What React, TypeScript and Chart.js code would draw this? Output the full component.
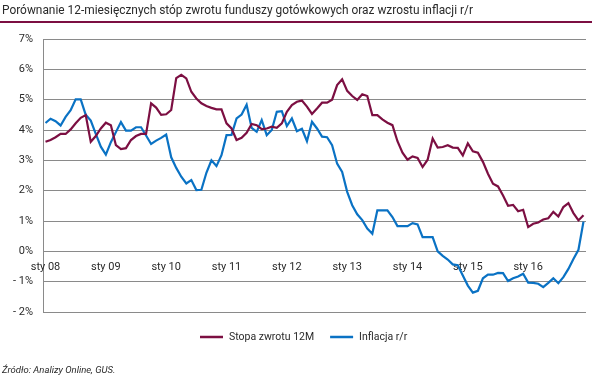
import React, { useEffect, useRef } from "react";
import { Chart, registerables } from "chart.js";

Chart.register(...registerables);

const TITLE = "Porównanie 12-miesięcznych stóp zwrotu funduszy gotówkowych oraz wzrostu inflacji r/r";
const SOURCE = "Źródło: Analizy Online, GUS.";
const MONTHS = ["sty", "lut", "mar", "kwi", "maj", "cze", "lip", "sie", "wrz", "paź", "lis", "gru"];
const YEARS = ["08", "09", "10", "11", "12", "13", "14", "15", "16"];
const CATEGORIES = YEARS.flatMap((y) => MONTHS.map((m) => `${m} ${y}`));
const SERIES_LABELS = ["Stopa zwrotu 12M", "Inflacja r/r"];
const SERIES_COLORS = ["#7c0f42", "#0a72c4"];
const Y_MIN = -2;
const Y_MAX = 7;

const STOPA_ZWROTU = [
  3.61, 3.67, 3.76, 3.87, 3.87, 4.02, 4.22, 4.40, 4.49, 3.61, 3.80, 4.05,
  4.24, 4.16, 3.50, 3.37, 3.40, 3.67, 3.80, 3.87, 3.87, 4.88, 4.74, 4.50,
  4.52, 4.66, 5.71, 5.82, 5.70, 5.26, 5.04, 4.88, 4.79, 4.73, 4.68, 4.68,
  4.22, 4.05, 3.67, 3.74, 3.91, 4.20, 4.16, 4.03, 4.05, 4.11, 4.07, 4.22,
  4.60, 4.82, 4.93, 4.97, 4.77, 4.53, 4.71, 4.90, 4.90, 5.00, 5.48, 5.67,
  5.29, 5.12, 4.99, 5.18, 5.12, 4.49, 4.49, 4.35, 4.24, 4.16, 3.63, 3.25,
  3.02, 3.13, 3.08, 2.78, 3.02, 3.72, 3.42, 3.44, 3.50, 3.42, 3.41, 3.16,
  3.56, 3.30, 3.25, 2.95, 2.56, 2.23, 2.14, 1.84, 1.50, 1.53, 1.32, 1.37,
  0.80, 0.91, 0.95, 1.05, 1.09, 1.30, 1.15, 1.46, 1.59, 1.26, 1.02, 1.19,
];

const INFLACJA = [
  4.23, 4.37, 4.29, 4.15, 4.43, 4.65, 5.01, 5.01, 4.50, 4.31, 3.87, 3.45,
  3.19, 3.60, 3.93, 4.26, 3.98, 3.98, 4.09, 4.09, 3.82, 3.54, 3.65, 3.74,
  3.85, 3.10, 2.75, 2.46, 2.24, 2.35, 2.02, 2.03, 2.59, 3.00, 2.81, 3.17,
  3.83, 3.84, 4.38, 4.51, 4.83, 4.07, 3.94, 4.33, 3.83, 4.00, 4.60, 4.62,
  4.13, 4.38, 3.96, 4.04, 3.63, 4.27, 4.05, 3.78, 3.76, 3.50, 2.89, 2.62,
  1.96, 1.52, 1.22, 1.03, 0.75, 0.58, 1.35, 1.35, 1.35, 1.13, 0.83, 0.83,
  0.83, 0.93, 0.89, 0.47, 0.47, 0.47, 0.00, -0.15, -0.27, -0.43, -0.46, -0.80,
  -1.13, -1.36, -1.30, -0.89, -0.77, -0.77, -0.71, -0.72, -0.98, -0.89, -0.83, -0.74,
  -1.03, -1.04, -1.07, -1.18, -1.04, -0.89, -1.05, -0.85, -0.58, -0.25, 0.05, 0.98,
];

const FONT = "Roboto, 'DejaVu Sans', sans-serif";
const TEXT_COLOR = "#2a2a2a";
const GRID_COLOR = "#8a8a8a";

const decorPlugin = {
  id: "decor",
  beforeDraw(chart: any) {
    const ctx = chart.ctx;
    ctx.save();
    ctx.fillStyle = "#ffffff";
    ctx.fillRect(0, 0, chart.width, chart.height);
    ctx.restore();
  },
  beforeDatasetsDraw(chart: any) {
    const ctx = chart.ctx;
    const x = chart.scales.x;
    const y = chart.scales.y;
    const y0 = y.getPixelForValue(0);
    ctx.save();
    ctx.font = `11px ${FONT}`;
    ctx.fillStyle = TEXT_COLOR;
    ctx.textAlign = "center";
    ctx.textBaseline = "alphabetic";
    CATEGORIES.forEach((c, i) => {
      if (i % 12 === 0) ctx.fillText(c, x.getPixelForValue(i), y0 + 19);
    });
    ctx.restore();
  },
  afterDraw(chart: any) {
    const ctx = chart.ctx;
    ctx.save();
    // title
    ctx.font = `11.9px ${FONT}`;
    ctx.fillStyle = TEXT_COLOR;
    ctx.textAlign = "left";
    ctx.textBaseline = "alphabetic";
    ctx.fillText(TITLE, 2, 14);
    // underline
    ctx.fillStyle = SERIES_COLORS[0];
    ctx.fillRect(0, 21, chart.width, 2);
    // legend
    ctx.font = `10.5px ${FONT}`;
    ctx.textBaseline = "middle";
    let lx = 200;
    const ly = 337;
    chart.data.datasets.forEach((ds: any) => {
      ctx.strokeStyle = ds.borderColor;
      ctx.lineWidth = 2.5;
      ctx.beginPath();
      ctx.moveTo(lx, ly);
      ctx.lineTo(lx + 23, ly);
      ctx.stroke();
      ctx.fillStyle = TEXT_COLOR;
      ctx.fillText(ds.label, lx + 29, ly);
      lx += 29 + ctx.measureText(ds.label).width + 16;
    });
    // source
    ctx.font = `italic 9.5px ${FONT}`;
    ctx.textBaseline = "alphabetic";
    ctx.fillStyle = TEXT_COLOR;
    ctx.fillText(SOURCE, 2, 373);
    ctx.restore();
  },
};

export default function App() {
  const canvasRef = useRef<HTMLCanvasElement | null>(null);

  useEffect(() => {
    document.body.style.margin = "0";
    const canvas = canvasRef.current;
    if (!canvas) return;
    const chart = new Chart(canvas, {
      type: "line",
      data: {
        labels: CATEGORIES,
        datasets: [
          {
            label: SERIES_LABELS[0],
            data: STOPA_ZWROTU,
            borderColor: SERIES_COLORS[0],
            backgroundColor: SERIES_COLORS[0],
            borderWidth: 2.2,
            pointRadius: 0,
            tension: 0,
          },
          {
            label: SERIES_LABELS[1],
            data: INFLACJA,
            borderColor: SERIES_COLORS[1],
            backgroundColor: SERIES_COLORS[1],
            borderWidth: 2.2,
            pointRadius: 0,
            tension: 0,
          },
        ],
      },
      options: {
        animation: false,
        responsive: false,
        devicePixelRatio: 1,
        layout: { padding: { top: 39, left: 0, right: 6, bottom: 72 } },
        plugins: {
          legend: { display: false },
          title: { display: false },
          tooltip: { enabled: false },
        },
        scales: {
          x: {
            type: "category",
            offset: true,
            display: false,
          },
          y: {
            min: Y_MIN,
            max: Y_MAX,
            afterFit: (scale: any) => {
              scale.width = 43;
            },
            ticks: {
              stepSize: 1,
              padding: 10,
              color: TEXT_COLOR,
              font: { family: FONT, size: 11 },
              callback: (v: any) => (Number(v) < 0 ? `- ${Math.abs(Number(v))}%` : `${v}%`),
            },
            grid: { color: GRID_COLOR, lineWidth: 1, drawTicks: false },
            border: { display: true, color: GRID_COLOR, width: 1 },
          },
        },
      },
      plugins: [decorPlugin],
    });
    return () => chart.destroy();
  }, []);

  return (
    <div style={{ width: 592, height: 384, position: "relative" }}>
      <canvas ref={canvasRef} width={592} height={384} />
    </div>
  );
}
